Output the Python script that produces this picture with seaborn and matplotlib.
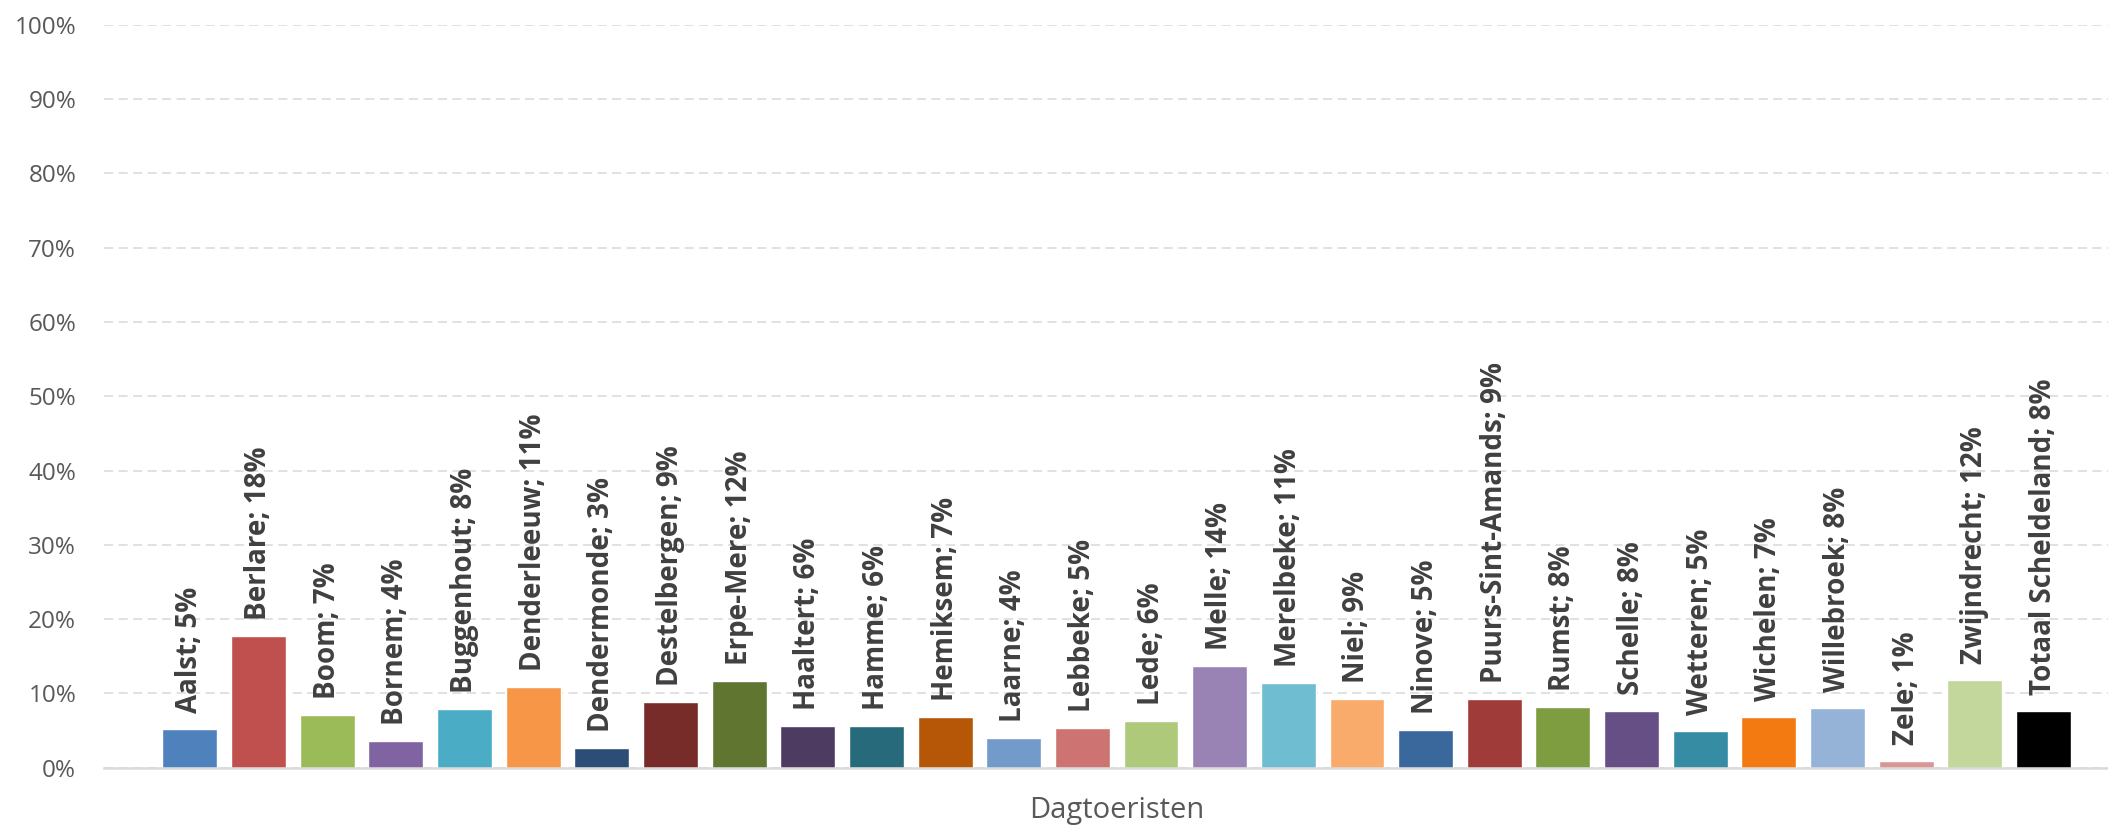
import matplotlib
matplotlib.use("Agg")
import matplotlib.pyplot as plt
import seaborn as sns
import pandas as pd
from matplotlib.ticker import FuncFormatter

# ---- data ----
gemeenten = ["Aalst", "Berlare", "Boom", "Bornem", "Buggenhout", "Denderleeuw",
             "Dendermonde", "Destelbergen", "Erpe-Mere", "Haaltert", "Hamme",
             "Hemiksem", "Laarne", "Lebbeke", "Lede", "Melle", "Merelbeke", "Niel",
             "Ninove", "Puurs-Sint-Amands", "Rumst", "Schelle", "Wetteren",
             "Wichelen", "Willebroek", "Zele", "Zwijndrecht", "Totaal Scheldeland"]
dagtoeristen = [5.2, 17.7, 7.1, 3.55, 7.9, 10.8, 2.65, 8.85, 11.7, 5.55, 5.6,
                6.8, 4.0, 5.35, 6.3, 13.7, 11.4, 9.25, 5.1, 9.25, 8.2, 7.65,
                4.95, 6.8, 8.05, 0.9, 11.8, 7.65]
kleuren = ["#4F81BD", "#C0504D", "#9BBB59", "#8064A2", "#4BACC6", "#F79646",
           "#2C4D75", "#772C2A", "#5F7530", "#4D3B62", "#276A7C", "#B65708",
           "#729ACA", "#CD7371", "#AFC97A", "#9983B5", "#6FBDD1", "#F9AB6B",
           "#3A679C", "#9F3B38", "#7E9C40", "#664F85", "#358CA3", "#F27A10",
           "#95B3D7", "#D99694", "#C3D69B", "#000000"]
y_ticks = [0, 10, 20, 30, 40, 50, 60, 70, 80, 90, 100]
x_titel = "Dagtoeristen"

df = pd.DataFrame({"gemeente": gemeenten, "waarde": dagtoeristen})

sns.set_style("white")
plt.rcParams["font.family"] = ["Open Sans", "DejaVu Sans"]

W, H = 2108, 826
fig = plt.figure(figsize=(W / 100, H / 100), dpi=100)
ax = fig.add_axes([104 / W, (H - 767.7) / H, (W - 104) / W, 743 / H])

sns.barplot(data=df, x="gemeente", y="waarde", hue="gemeente", palette=kleuren,
            legend=False, width=0.8, saturation=1, ax=ax, zorder=3)

ax.set_ylim(0, 100)
ax.set_xlim(-1.252, 27.94)
ax.set_yticks(y_ticks)
ax.yaxis.set_major_formatter(FuncFormatter(lambda v, p: f"{v:.0f}%"))
ax.tick_params(axis="y", length=0, pad=20, labelsize=17.5, labelcolor="#595959")
ax.tick_params(axis="x", length=0, labelbottom=False)
ax.grid(axis="y", color="#D9D9D9", linewidth=1.1, linestyle=(0, (6, 3.5)), zorder=0)
ax.set_axisbelow(True)
for s in ["top", "left", "right"]:
    ax.spines[s].set_visible(False)
ax.spines["bottom"].set_color("#D9D9D9")
ax.spines["bottom"].set_linewidth(1.8)
ax.spines["bottom"].set_zorder(4)

for i, (naam, v) in enumerate(zip(gemeenten, dagtoeristen)):
    ax.annotate(f"{naam}; {round(v)}%", xy=(i, v), xytext=(0, 11.5),
                textcoords="offset points", rotation=90, ha="center", va="bottom",
                fontsize=20, fontweight="bold", color="#404040")

ax.set_xlabel(x_titel, fontsize=21, color="#595959")
ax.set_ylabel("")
ax.xaxis.set_label_coords(0.5055, -0.057)
ax.xaxis.label.set_va("center")

fig.savefig("out.png", dpi=100, facecolor="white")
